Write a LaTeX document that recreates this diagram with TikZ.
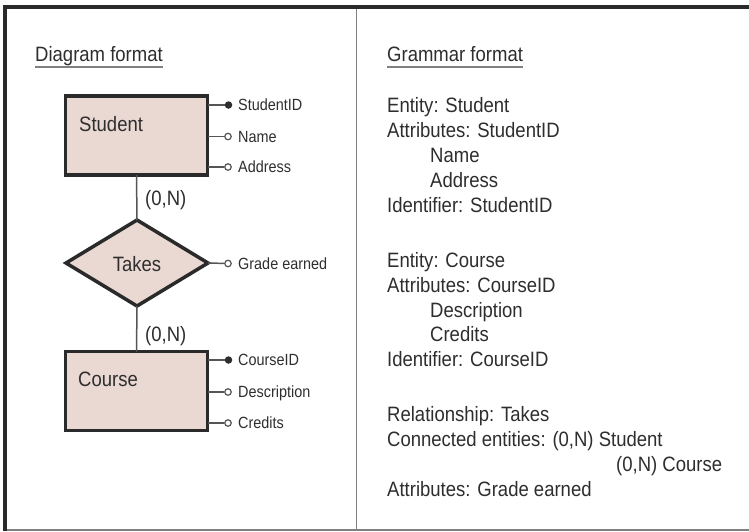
\documentclass[tikz,border=0pt]{standalone}
\usepackage{fontspec}
\setmainfont{Liberation Sans}[FakeStretch=0.89]
\usetikzlibrary{shapes.geometric}

\definecolor{inkc}{HTML}{2E2E2E}
\definecolor{edgec}{HTML}{2A2A2A}
\definecolor{linec}{HTML}{555555}
\definecolor{fillc}{HTML}{EAD8D2}
\definecolor{rulec}{HTML}{808080}

\tikzset{
  bigtxt/.style={font=\fontsize{20.8}{24}\selectfont, text=inkc, inner sep=0pt},
  smalltxt/.style={font=\fontsize{16.2}{19}\selectfont, text=inkc, inner sep=0pt},
  entity/.style={draw=edgec, fill=fillc, line width=3.5pt, rectangle,
    minimum width=142pt, minimum height=79pt, inner sep=0pt, outer sep=0pt},
  relship/.style={draw=edgec, fill=fillc, line width=3.5pt, diamond,
    minimum width=142pt, minimum height=86pt, inner sep=0pt, outer sep=0pt},
  keydot/.style={circle, fill=inkc, minimum size=7.5pt, inner sep=0pt},
  attrdot/.style={circle, draw=linec, fill=white, line width=1.2pt, minimum size=6.5pt, inner sep=0pt},
  conn/.style={draw=linec, line width=1.5pt},
  uline/.style={draw=rulec, line width=1.4pt},
}

\begin{document}
\begin{tikzpicture}[x=1pt, y=-1pt]
  \useasboundingbox (0,0) rectangle (749,531);
  \fill[white] (0,0) rectangle (749,531);

  % frame and divider
  \draw[draw=rulec, line width=2pt] (5,529.5) -- (749,529.5);
  \draw[draw=rulec, line width=1.3pt] (356.7,7) -- (356.7,529.5);
  \draw[draw=edgec, line width=3.5pt] (5,5.3) -- (5,531);
  \draw[draw=edgec, line width=3.5pt] (3.3,7) -- (749,7);

  % headings
  \node[bigtxt, anchor=base west] (hdiag) at (35,61.5) {Diagram format};
  \draw[uline] ([yshift=-5.5pt]hdiag.base west) -- ([yshift=-5.5pt]hdiag.base east);
  \node[bigtxt, anchor=base west] (hgram) at (387,61.5) {Grammar format};
  \draw[uline] ([yshift=-5.5pt]hgram.base west) -- ([yshift=-5.5pt]hgram.base east);

  % entities and relationship
  \node[entity] (student) at (136.5,135.5) {};
  \node[bigtxt, anchor=base west] (studentlbl) at (79,131) {Student};
  \node[relship] (takes) at (137,263) {};
  \node[bigtxt, anchor=base] (takeslbl) at (137,271) {Takes};
  \node[entity] (course) at (136.5,391) {};
  \node[bigtxt, anchor=base west] (courselbl) at (78,386) {Course};

  \draw[conn] (student.south) -- (takes.north);
  \draw[conn] (takes.south) -- (course.north);
  \node[bigtxt, anchor=base west] (cardA) at (145,205) {(0,N)};
  \node[bigtxt, anchor=base west] (cardB) at (145,341) {(0,N)};

  % attributes of Student
  \node[keydot] (sid) at (228.5,105) {};
  \node[attrdot] (sname) at (228,136.5) {};
  \node[attrdot] (saddr) at (228,167) {};
  \draw[conn] (student.east |- sid) -- (sid);
  \draw[conn] (student.east |- sname) -- (sname);
  \draw[conn] (student.east |- saddr) -- (saddr);
  \node[smalltxt, anchor=base west] (sidl) at (238,110.5) {StudentID};
  \node[smalltxt, anchor=base west] (snamel) at (238,142) {Name};
  \node[smalltxt, anchor=base west] (saddrl) at (238,172.5) {Address};

  % attribute of Takes
  \node[attrdot] (grade) at (228,263.5) {};
  \draw[conn] (takes.east) -- (grade);
  \node[smalltxt, anchor=base west] (gradel) at (238,269) {Grade earned};

  % attributes of Course
  \node[keydot] (cid) at (228.5,360) {};
  \node[attrdot] (cdesc) at (228,392) {};
  \node[attrdot] (ccred) at (228,423) {};
  \draw[conn] (course.east |- cid) -- (cid);
  \draw[conn] (course.east |- cdesc) -- (cdesc);
  \draw[conn] (course.east |- ccred) -- (ccred);
  \node[smalltxt, anchor=base west] (cidl) at (238,365.5) {CourseID};
  \node[smalltxt, anchor=base west] (cdescl) at (238,397.5) {Description};
  \node[smalltxt, anchor=base west] (ccredl) at (238,428.5) {Credits};

  % grammar listing
  \node[bigtxt, anchor=base west] (g1) at (387,112) {Entity: Student};
  \node[bigtxt, anchor=base west] (g2) at (387,137) {Attributes: StudentID};
  \node[bigtxt, anchor=base west] (g3) at (430,162) {Name};
  \node[bigtxt, anchor=base west] (g4) at (430,187) {Address};
  \node[bigtxt, anchor=base west] (g5) at (387,212) {Identifier: StudentID};

  \node[bigtxt, anchor=base west] (g6) at (387,267) {Entity: Course};
  \node[bigtxt, anchor=base west] (g7) at (387,292) {Attributes: CourseID};
  \node[bigtxt, anchor=base west] (g8) at (430,317) {Description};
  \node[bigtxt, anchor=base west] (g9) at (430,341.5) {Credits};
  \node[bigtxt, anchor=base west] (g10) at (387,366) {Identifier: CourseID};

  \node[bigtxt, anchor=base west] (g11) at (387,421) {Relationship: Takes};
  \node[bigtxt, anchor=base west] (g12) at (387,446) {Connected entities: (0,N) Student};
  \node[bigtxt, anchor=base west] (g13) at (616,471) {(0,N) Course};
  \node[bigtxt, anchor=base west] (g14) at (387,496) {Attributes: Grade earned};
\end{tikzpicture}
\end{document}
